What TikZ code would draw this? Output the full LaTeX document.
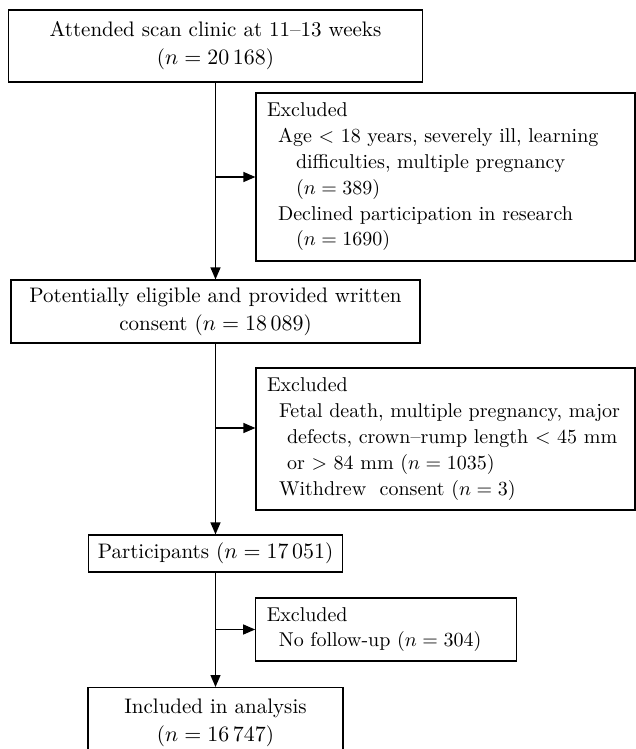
\documentclass[tikz,border=0pt]{standalone}
\usetikzlibrary{arrows.meta}
\tikzset{
 box/.style={draw,line width=0.6pt,inner sep=0pt,align=center,font=\fontsize{10.5}{14}\selectfont},
 exbox/.style={draw,line width=0.6pt,inner ysep=0pt,inner xsep=5.5pt,align=left,font=\fontsize{10}{12.9}\selectfont},
 arr/.style={-{Triangle[length=6pt,width=5pt]},line width=0.6pt}
}
\newcommand{\ina}{\hspace*{5.5pt}}
\newcommand{\inb}{\hspace*{14.5pt}}
\begin{document}
\begin{tikzpicture}[x=0.5pt,y=-0.5pt]
 \useasboundingbox (0,0) rectangle (636,749);
 \node[box,minimum width=207pt,minimum height=36pt] (attended) at (215.5,46) {Attended scan clinic at 11--13 weeks\\($n = 20\,168$)};
 \node[exbox,minimum width=189.5pt,minimum height=84pt,text width=178.5pt] (excl1) at (445.5,177) {Excluded\\
 \ina Age $<$ 18 years, severely ill, learning\\
 \inb difficulties, multiple pregnancy\\
 \inb ($n = 389$)\\
 \ina Declined participation in research\\
 \inb ($n = 1690$)};
 \node[box,minimum width=204.5pt,minimum height=31.5pt] (eligible) at (215.5,311.5) {Potentially eligible and provided written\\consent ($n = 18\,089$)};
 \node[exbox,minimum width=189.5pt,minimum height=71pt,text width=178.5pt,inner xsep=4.5pt] (excl2) at (445.5,439) {Excluded\\
 \hspace*{6pt}Fetal death, multiple pregnancy, major\\
 \hspace*{10pt}defects, crown--rump length $<$ 45 mm\\
 \hspace*{10pt}or $>$ 84 mm ($n = 1035$)\\
 \hspace*{6pt}Withdrew\ \ consent ($n = 3$)};
 \node[box,minimum width=127pt,minimum height=18.5pt] (part) at (215.5,553.5) {Participants ($n = 17\,051$)};
 \node[exbox,minimum width=130.5pt,minimum height=31.5pt,text width=119.5pt] (excl3) at (386.25,629.5) {Excluded\\
 \hspace*{6pt}No follow-up ($n = 304$)};
 \node[box,minimum width=127.5pt,inner ysep=5.5pt,anchor=north] (incl) at (215.5,687) {Included in analysis\\($n = 16\,747$)};
 \coordinate (j1) at (attended.south |- excl1.west);
 \coordinate (j2) at (215.5,428);
 \coordinate (j3) at (part.south |- excl3.west);
 \draw[arr] (attended.south) -- (eligible.north);
 \draw[arr] (j1) -- (excl1.west);
 \draw[arr] (eligible.south) -- (part.north);
 \draw[arr] (j2) -- (j2 -| excl2.west);
 \draw[arr] (part.south) -- (incl.north);
 \draw[arr] (j3) -- (excl3.west);
\end{tikzpicture}
\end{document}
